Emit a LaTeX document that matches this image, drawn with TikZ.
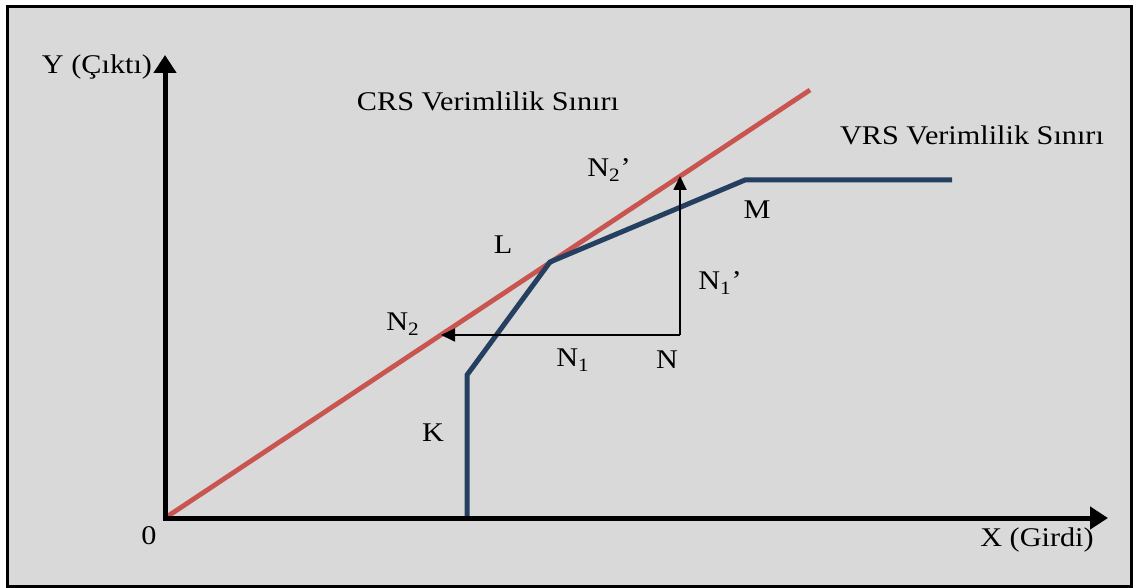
\documentclass[tikz,border=0pt]{standalone}
\usepackage{fontspec}
\setmainfont{Liberation Serif}[FakeStretch=1.12]
\usepackage{xcolor}
\usetikzlibrary{arrows.meta}
\definecolor{crsred}{RGB}{201,85,80}
\definecolor{vrsblue}{RGB}{36,63,96}
\definecolor{panelgray}{RGB}{217,217,217}

\begin{document}
\begin{tikzpicture}[
    x=0.5pt, y=-0.5pt,
    every node/.style={font=\fontsize{13.5}{15}\selectfont, inner sep=0pt},
    axis/.style={line width=2.5pt, line join=miter, {Triangle[length=9pt,width=11pt]}-{Triangle[length=9pt,width=11pt]}},
    crs/.style={line width=2.4pt, crsred},
    vrs/.style={line width=2.5pt, vrsblue, line join=miter},
    projarrow/.style={line width=0.9pt, -{Triangle[length=7pt,width=6.5pt]}}
]
\useasboundingbox[fill=white] (0,0) rectangle (1134,588);
\draw[line width=1.5pt, fill=panelgray] (7,7) rectangle (1131,586);

\coordinate (O) at (165,518);
\coordinate (Ytop) at (165,55);
\coordinate (Xend) at (1108,518);
\coordinate (Cend) at (810,90);
\coordinate (Kbase) at (467,518);
\coordinate (K) at (467,375);
\coordinate (L) at (550,262);
\coordinate (M) at (745,180);
\coordinate (Mend) at (952,180);
\coordinate (N) at (680,335);
\coordinate (Ntwo) at (441,335);
\coordinate (Ntwop) at (680,176);

\draw[crs] (O) -- (Cend);
\draw[vrs] (Kbase) -- (K) -- (L) -- (M) -- (Mend);
\draw[projarrow] (N) -- (Ntwo);
\draw[projarrow] (N) -- (Ntwop);
\draw[axis] (Ytop) -- (O) -- (Xend);

\node (ylab) at (97,67) {Y (Çıktı)};
\node (xlab) at (1037,540) {X (Girdi)};
\node (zero) at (149,536) {0};
\node (crslab) at (488,101) {CRS Verimlilik Sınırı};
\node (vrslab) at (972,135) {VRS Verimlilik Sınırı};
\node (ntwoplab) at (609,170) {N\textsubscript{2}’};
\node (mlab) at (757,210) {M};
\node (llab) at (503,245) {L};
\node (nonplab) at (720,283) {N\textsubscript{1}’};
\node (ntwolab) at (403,324) {N\textsubscript{2}};
\node (nonelab) at (573,360) {N\textsubscript{1}};
\node (nlab) at (667,360) {N};
\node (klab) at (433,433) {K};
\end{tikzpicture}
\end{document}
